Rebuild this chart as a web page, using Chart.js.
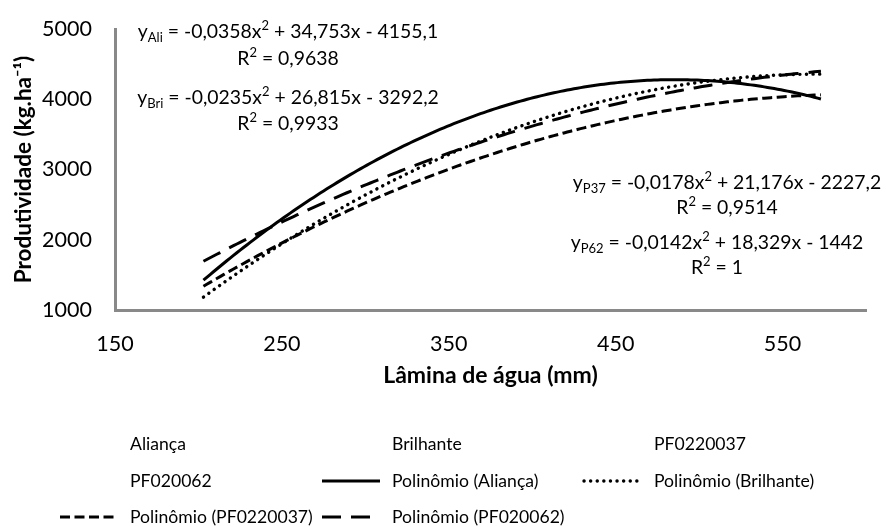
<!DOCTYPE html>
<html>
<head>
<meta charset="utf-8">
<script src="https://cdn.jsdelivr.net/npm/chart.js@4.4.1/dist/chart.umd.min.js"></script>
<style>
  html, body { margin: 0; padding: 0; background: #fff; }
  #wrap { width: 886px; height: 527px; position: relative; }
</style>
</head>
<body>
<div id="wrap"><canvas id="c" width="886" height="527"></canvas></div>
<script>
// Cultivars and their quadratic fits: y = a·x² + b·x + c
const cultivars = ['Aliança', 'Brilhante', 'PF0220037', 'PF020062'];
const eqTags    = ['Ali', 'Bri', 'P37', 'P62'];
const coefA     = [-0.0358, -0.0235, -0.0178, -0.0142];
const coefB     = [34.753, 26.815, 21.176, 18.329];
const coefC     = [-4155.1, -3292.2, -2227.2, -1442];
const rSquared  = [0.9638, 0.9933, 0.9514, 1];
// Water depth (mm) covered by the fitted curves
const laminaRange = [203, 573];
const xTicks = [150, 250, 350, 450, 550];
const yTicks = [1000, 2000, 3000, 4000, 5000];

const FONT = 'Lato';
const AXIS_GREY = '#898989';

// Curve points from each fitted polynomial
function curve(i) {
  const pts = [];
  for (let x = laminaRange[0]; x <= laminaRange[1]; x += 2) {
    pts.push({ x, y: coefA[i] * x * x + coefB[i] * x + coefC[i] });
  }
  return pts;
}

const curveStyles = [
  { borderDash: [], borderCapStyle: 'butt', borderWidth: 3 },            // Aliança: solid
  { borderDash: [0.1, 6.5], borderCapStyle: 'round', borderWidth: 3.4 }, // Brilhante: round dots
  { borderDash: [10, 4.5], borderCapStyle: 'butt', borderWidth: 3 },     // PF0220037: dashes
  { borderDash: [19, 10], borderCapStyle: 'butt', borderWidth: 3 }       // PF020062: long dashes
];

const datasets = [];
cultivars.forEach(name => {
  datasets.push({ label: name, data: [], showLine: false, pointRadius: 0, borderWidth: 0 });
});
cultivars.forEach((name, i) => {
  datasets.push(Object.assign({
    label: 'Polinômio (' + name + ')',
    data: curve(i),
    showLine: true,
    pointRadius: 0,
    borderColor: '#000',
    tension: 0,
    fill: false
  }, curveStyles[i]));
});

function fmt(v) { return String(v).replace('.', ','); }

// Equation boxes: center x, first line y, second line y
const eqPos = [
  [288, 32, 59],
  [288, 98, 124],
  [727, 183, 208],
  [717, 243, 268]
];

function drawRich(ctx, parts, cx, cy, size) {
  const small = Math.round(size * 0.65);
  let total = 0;
  parts.forEach(p => {
    ctx.font = ((p.sub || p.sup) ? small : size) + 'px ' + FONT;
    p.w = ctx.measureText(p.t).width;
    total += p.w;
  });
  let x = cx - total / 2;
  parts.forEach(p => {
    ctx.font = ((p.sub || p.sup) ? small : size) + 'px ' + FONT;
    const dy = p.sub ? size * 0.3 : (p.sup ? -size * 0.33 : 0);
    ctx.fillText(p.t, x, cy + dy);
    x += p.w;
  });
}

const equationsPlugin = {
  id: 'equations',
  afterDatasetsDraw(chart) {
    const ctx = chart.ctx;
    ctx.save();
    ctx.fillStyle = '#000';
    ctx.textAlign = 'left';
    ctx.textBaseline = 'middle';
    const size = 19.4;
    eqTags.forEach((tag, i) => {
      const [cx, y1, y2] = eqPos[i];
      drawRich(ctx, [
        { t: 'y' }, { t: tag, sub: true },
        { t: ' = ' + fmt(coefA[i]) + 'x' }, { t: '2', sup: true },
        { t: ' + ' + fmt(coefB[i]) + 'x - ' + fmt(-coefC[i]) }
      ], cx, y1, size);
      drawRich(ctx, [
        { t: 'R' }, { t: '2', sup: true }, { t: ' = ' + fmt(rSquared[i]) }
      ], cx, y2, size);
    });
    ctx.restore();
  }
};

// Three-column legend under the plot
const legendCols = [60, 322, 584];
const legendRows = [444, 481, 517];
const gridLegendPlugin = {
  id: 'gridLegend',
  afterDraw(chart) {
    const ctx = chart.ctx;
    ctx.save();
    chart.data.datasets.forEach((ds, i) => {
      const x0 = legendCols[i % 3];
      const y = legendRows[Math.floor(i / 3)];
      if (ds.showLine && ds.borderWidth) {
        ctx.beginPath();
        ctx.setLineDash(ds.borderDash || []);
        ctx.lineCap = ds.borderCapStyle || 'butt';
        ctx.lineWidth = ds.borderWidth;
        ctx.strokeStyle = ds.borderColor;
        ctx.moveTo(x0, y);
        ctx.lineTo(x0 + 58, y);
        ctx.stroke();
      }
      ctx.setLineDash([]);
      ctx.fillStyle = '#000';
      ctx.font = '17.6px ' + FONT;
      ctx.textAlign = 'left';
      ctx.textBaseline = 'middle';
      ctx.fillText(ds.label, x0 + 70, y);
    });
    ctx.restore();
  }
};

new Chart(document.getElementById('c'), {
  type: 'scatter',
  data: { datasets },
  plugins: [equationsPlugin, gridLegendPlugin],
  options: {
    responsive: false,
    animation: false,
    devicePixelRatio: 1,
    layout: { padding: { left: 0, top: 29, right: 20, bottom: 138 } },
    plugins: { legend: { display: false }, tooltip: { enabled: false } },
    scales: {
      x: {
        type: 'linear',
        min: 150, max: 600,
        afterFit(s) { s.height = 79; },
        afterBuildTicks(s) { s.ticks = xTicks.map(v => ({ value: v })); },
        grid: { display: false },
        border: { display: true, color: AXIS_GREY, width: 3 },
        ticks: {
          color: '#000', padding: 13, maxRotation: 0,
          font: { family: FONT, size: 21.5 },
          callback: v => String(v)
        },
        title: {
          display: true, text: 'Lâmina de água (mm)', color: '#000',
          padding: { top: 0, bottom: 0 },
          font: { family: FONT, size: 23, weight: 'bold' }
        }
      },
      y: {
        type: 'linear',
        min: 1000, max: 5000,
        afterFit(s) { s.width = 115; },
        afterBuildTicks(s) { s.ticks = yTicks.map(v => ({ value: v })); },
        grid: { display: false },
        border: { display: true, color: AXIS_GREY, width: 3 },
        ticks: {
          color: '#000', padding: 15,
          font: { family: FONT, size: 21.5 },
          callback: v => String(v)
        },
        title: {
          display: true, text: 'Produtividade (kg.ha⁻¹)', color: '#000',
          padding: { top: 10, bottom: 0 },
          font: { family: FONT, size: 22.5, weight: 'bold' }
        }
      }
    }
  }
});
</script>
</body>
</html>
